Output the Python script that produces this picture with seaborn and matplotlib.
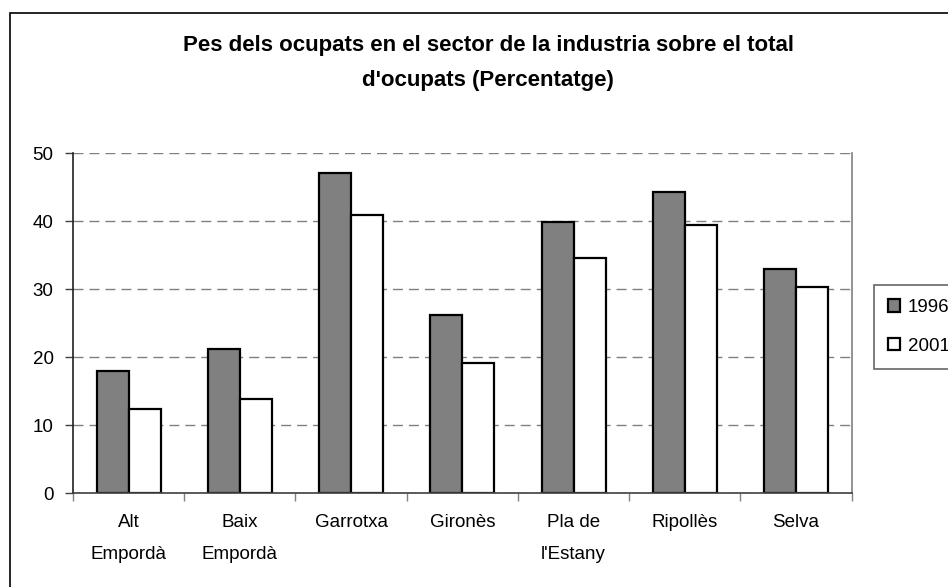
import matplotlib
matplotlib.use("Agg")
import matplotlib.pyplot as plt
import matplotlib.patches as mpatches
import seaborn as sns
import pandas as pd
import numpy as np

categories = ["Alt\nEmpordà", "Baix\nEmpordà", "Garrotxa", "Gironès", "Pla de\nl'Estany", "Ripollès", "Selva"]
years = ["1996", "2001"]
values_1996 = [18.0, 21.2, 47.1, 26.2, 39.8, 44.2, 33.0]
values_2001 = [12.4, 13.8, 40.9, 19.1, 34.5, 39.4, 30.3]
title = "Pes dels ocupats en el sector de la industria sobre el total\nd'ocupats (Percentatge)"

df = pd.DataFrame({
    "categoria": categories * 2,
    "any": [years[0]] * len(categories) + [years[1]] * len(categories),
    "valor": values_1996 + values_2001,
})

sns.set_theme(style="white")
plt.rcParams["font.family"] = ["Liberation Sans", "DejaVu Sans"]
plt.rcParams["text.color"] = "black"

fig = plt.figure(figsize=(9.48, 5.87), dpi=100)
fig.patch.set_facecolor("white")
ax = fig.add_axes([73 / 948, 1 - 493 / 587, (851.7 - 73) / 948, (493 - 153) / 587])

palette = {"1996": "#808080", "2001": "#ffffff"}
sns.barplot(data=df, x="categoria", y="valor", hue="any", order=categories,
            hue_order=years, palette=palette, width=0.576, gap=0,
            edgecolor="black", linewidth=1.6, saturation=1, ax=ax,
            legend=False, err_kws={"linewidth": 0})

ax.set_ylim(0, 50)
ax.set_xlim(-0.5, len(categories) - 0.5)
ax.set_yticks(np.arange(0, 51, 10))
ax.yaxis.grid(True, linestyle=(0, (7.2, 4.3)), color="#808080", linewidth=1.0)
ax.xaxis.grid(False)
ax.set_axisbelow(True)
ax.set_xlabel("")
ax.set_ylabel("")

# category ticks between groups
ax.set_xticks(np.arange(-0.5, len(categories), 1.0), minor=True)
ax.tick_params(axis="x", which="minor", length=6, width=1, color="#808080", direction="out", bottom=True)
ax.tick_params(axis="x", which="major", length=0, pad=15, labelsize=13.5, colors="black")
ax.tick_params(axis="y", which="major", length=6, width=1, color="#404040", direction="out", left=True,
               pad=8, labelsize=13.5, colors="black")
for lab in ax.get_xticklabels():
    lab.set_linespacing(2.2)

ax.spines["top"].set_visible(False)
ax.spines["right"].set_color("#808080")
ax.spines["right"].set_linewidth(1.2)
ax.spines["left"].set_color("#202020")
ax.spines["left"].set_linewidth(1.2)
ax.spines["bottom"].set_color("#404040")
ax.spines["bottom"].set_linewidth(1.2)

fig.text(488 / 948, 1 - 63 / 587, title, ha="center", va="center", fontsize=16,
         fontweight="bold", linespacing=1.85, color="black")

# chart area border (extends beyond the image on right and bottom)
border = mpatches.Rectangle((10 / 948, -0.2), 2.0, 1.2 - 13 / 587, transform=fig.transFigure,
                            fill=False, edgecolor="black", linewidth=1.2, zorder=10)
fig.patches.append(border)

handles = [mpatches.Patch(facecolor=palette[y], edgecolor="black", linewidth=1.6, label=y) for y in years]
leg = fig.legend(handles=handles, loc="upper left", bbox_to_anchor=(874 / 948, 1 - 285 / 587),
                 frameon=True, fontsize=13.5, handlelength=0.65, handleheight=0.65, handletextpad=0.4,
                 labelspacing=1.15, borderpad=0.75, fancybox=False, borderaxespad=0)
leg.get_frame().set_edgecolor("#404040")
leg.get_frame().set_linewidth(1.2)

fig.savefig("out.png", dpi=100)
